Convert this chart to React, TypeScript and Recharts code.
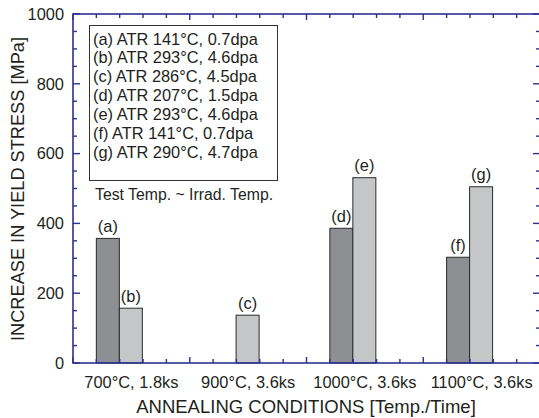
import React from 'react';
import { ComposedChart, Bar, XAxis, YAxis } from 'recharts';

const categories = ['700°C, 1.8ks', '900°C, 3.6ks', '1000°C, 3.6ks', '1100°C, 3.6ks'];
const lowTempValues: (number | null)[] = [357, null, 386, 303];
const highTempValues: (number | null)[] = [157, 137, 531, 505];
const lowTempLabels: (string | null)[] = ['(a)', null, '(d)', '(f)'];
const highTempLabels: (string | null)[] = ['(b)', '(c)', '(e)', '(g)'];

const legendLines = [
  '(a) ATR 141°C, 0.7dpa',
  '(b) ATR 293°C, 4.6dpa',
  '(c) ATR 286°C, 4.5dpa',
  '(d) ATR 207°C, 1.5dpa',
  '(e) ATR 293°C, 4.6dpa',
  '(f) ATR 141°C, 0.7dpa',
  '(g) ATR 290°C, 4.7dpa',
];
const noteText = 'Test Temp. ~ Irrad. Temp.';
const xTitle = 'ANNEALING CONDITIONS [Temp./Time]';
const yTitle = 'INCREASE IN YIELD STRESS [MPa]';

const yTicks = [0, 50, 100, 150, 200, 250, 300, 350, 400, 450, 500, 550, 600, 650, 700, 750, 800, 850, 900, 950, 1000];
const yLabelTicks = [0, 200, 400, 600, 800, 1000];
const xMinorTicks = [0, 1, 2, 3, 4, 5, 6, 7, 8, 9, 10, 11, 12, 13, 14, 15, 16, 17, 18, 19, 20];
const xLabelTicks = [2.5, 7.5, 12.5, 17.5];

const data = categories.map((c, i) => ({
  category: c,
  low: lowTempValues[i],
  high: highTempValues[i],
}));

const FONT = '"Liberation Sans", Arial, Helvetica, sans-serif';
const AXIS = '#2e3192';
const TEXT = '#231f20';
const DARK = '#8e8f93';
const LIGHT = '#c5c6c8';
const EDGE = '#2b2b2b';

// plot frame layout
const PLOT_LEFT = 73;
const PLOT_TOP = 14;
const PLOT_RIGHT = 540;
const PLOT_BOTTOM = 363;
const CHART_H = 418;
const X_DOMAIN = [0, 20];
const Y_DOMAIN = [0, 1000];

const xPix = (v: number) => PLOT_LEFT + ((v - X_DOMAIN[0]) / (X_DOMAIN[1] - X_DOMAIN[0])) * (PLOT_RIGHT - PLOT_LEFT);
const yPix = (v: number) => PLOT_BOTTOM - ((v - Y_DOMAIN[0]) / (Y_DOMAIN[1] - Y_DOMAIN[0])) * (PLOT_BOTTOM - PLOT_TOP);

const BottomTick = (props: any) => {
  const { x, y, payload } = props;
  const li = xLabelTicks.indexOf(payload.value);
  if (li < 0) return <g />;
  return (
    <text x={x} y={y + 24.5} textAnchor="middle" fontSize={16.4} fontFamily={FONT} fill={TEXT}>
      {categories[li]}
    </text>
  );
};

const LeftTick = (props: any) => {
  const { x, y, payload } = props;
  return (
    <text x={x - 9} y={y + 5.8} textAnchor="end" fontSize={16.4} fontFamily={FONT} fill={TEXT}>
      {payload.value}
    </text>
  );
};

const makeShape = (labels: (string | null)[], values: (number | null)[], color: string) => (p: any) => {
  const { x, y, width, height, payload } = p;
  const i = categories.indexOf(payload?.category);
  if (i < 0 || values[i] == null) return <g />;
  const label = labels[i];
  return (
    <g>
      <rect x={x} y={y} width={width} height={height} fill={color} stroke={EDGE} strokeWidth={1} />
      {label && (
        <text x={x + width / 2} y={y - 6.5} textAnchor="middle" fontSize={16.4} fontFamily={FONT} fill={TEXT}>
          {label}
        </text>
      )}
    </g>
  );
};

function Frame() {
  const parts: React.ReactNode[] = [];
  xMinorTicks.forEach((v) => {
    const px = xPix(v);
    const len = v % 5 === 0 ? 6 : 4;
    parts.push(<path key={`b${v}`} d={`M${px},${PLOT_BOTTOM}V${PLOT_BOTTOM - len}`} />);
    parts.push(<path key={`t${v}`} d={`M${px},${PLOT_TOP}V${PLOT_TOP + len}`} />);
  });
  yTicks.forEach((v) => {
    const py = yPix(v);
    const len = yLabelTicks.includes(v) ? 7 : 4;
    parts.push(<path key={`l${v}`} d={`M${PLOT_LEFT},${py}H${PLOT_LEFT + len}`} />);
    parts.push(<path key={`r${v}`} d={`M${PLOT_RIGHT},${py}H${PLOT_RIGHT - len}`} />);
  });
  return (
    <svg
      width={539}
      height={CHART_H}
      style={{ position: 'absolute', left: 0, top: 0, pointerEvents: 'none', zIndex: 5 }}
    >
      <g stroke={AXIS} strokeWidth={1.4} fill="none">
        {parts}
      </g>
      <rect
        x={PLOT_LEFT}
        y={PLOT_TOP}
        width={PLOT_RIGHT - PLOT_LEFT}
        height={PLOT_BOTTOM - PLOT_TOP}
        fill="none"
        stroke={AXIS}
        strokeWidth={1.6}
      />
    </svg>
  );
}

export default function App() {
  return (
    <div
      style={{
        position: 'absolute',
        left: 0,
        top: 0,
        width: 539,
        height: CHART_H,
        overflow: 'hidden',
        background: '#fff',
        fontFamily: FONT,
      }}
    >
      <ComposedChart
        width={PLOT_RIGHT}
        height={CHART_H}
        data={data}
        margin={{ top: PLOT_TOP, right: 0, bottom: 0, left: 0 }}
        barGap={0}
        barCategoryGap="30%"
      >
        <XAxis
          xAxisId="cat"
          dataKey="category"
          type="category"
          hide
          padding={{ left: -11.675, right: 11.675 }}
        />
        <XAxis
          xAxisId="b"
          type="number"
          dataKey="pos"
          domain={X_DOMAIN}
          allowDataOverflow
          ticks={xLabelTicks}
          interval={0}
          tick={<BottomTick />}
          tickLine={false}
          tickSize={0}
          tickMargin={0}
          height={CHART_H - PLOT_BOTTOM}
          axisLine={false}
        />
        <YAxis
          yAxisId="l"
          type="number"
          domain={Y_DOMAIN}
          ticks={yLabelTicks}
          interval={0}
          tick={<LeftTick />}
          tickLine={false}
          tickSize={0}
          tickMargin={0}
          width={PLOT_LEFT}
          axisLine={false}
        />
        <Bar
          xAxisId="cat"
          yAxisId="l"
          dataKey="low"
          fill={DARK}
          isAnimationActive={false}
          shape={makeShape(lowTempLabels, lowTempValues, DARK)}
        />
        <Bar
          xAxisId="cat"
          yAxisId="l"
          dataKey="high"
          fill={LIGHT}
          isAnimationActive={false}
          shape={makeShape(highTempLabels, highTempValues, LIGHT)}
        />
      </ComposedChart>
      <Frame />
      <div
        style={{
          position: 'absolute',
          left: 17.7 - 200,
          top: 188.5 - 10,
          width: 400,
          height: 20,
          lineHeight: '20px',
          textAlign: 'center',
          transform: 'rotate(-90deg)',
          transformOrigin: '200px 10px',
          fontFamily: FONT,
          fontSize: 18.2,
          color: TEXT,
          whiteSpace: 'nowrap',
        }}
      >
        {yTitle}
      </div>
      <div
        style={{
          position: 'absolute',
          left: 306 - 200,
          top: 406.7 - 10,
          width: 400,
          height: 20,
          lineHeight: '20px',
          textAlign: 'center',
          fontFamily: FONT,
          fontSize: 18.5,
          color: TEXT,
          whiteSpace: 'nowrap',
        }}
      >
        {xTitle}
      </div>
      <div
        style={{
          position: 'absolute',
          left: 89,
          top: 25,
          width: 187,
          height: 154,
          border: '1px solid #333',
          boxSizing: 'content-box',
          fontFamily: FONT,
          fontSize: 16.4,
          color: TEXT,
        }}
      >
        {legendLines.map((l, i) => (
          <div
            key={i}
            style={{
              position: 'absolute',
              left: 3,
              top: 13 + i * 18.83 - 9.4,
              lineHeight: '18.8px',
              whiteSpace: 'nowrap',
            }}
          >
            {l}
          </div>
        ))}
      </div>
      <div
        style={{
          position: 'absolute',
          left: 95,
          top: 186,
          fontFamily: FONT,
          fontSize: 15.8,
          lineHeight: '18px',
          color: TEXT,
          whiteSpace: 'nowrap',
        }}
      >
        {noteText}
      </div>
    </div>
  );
}
